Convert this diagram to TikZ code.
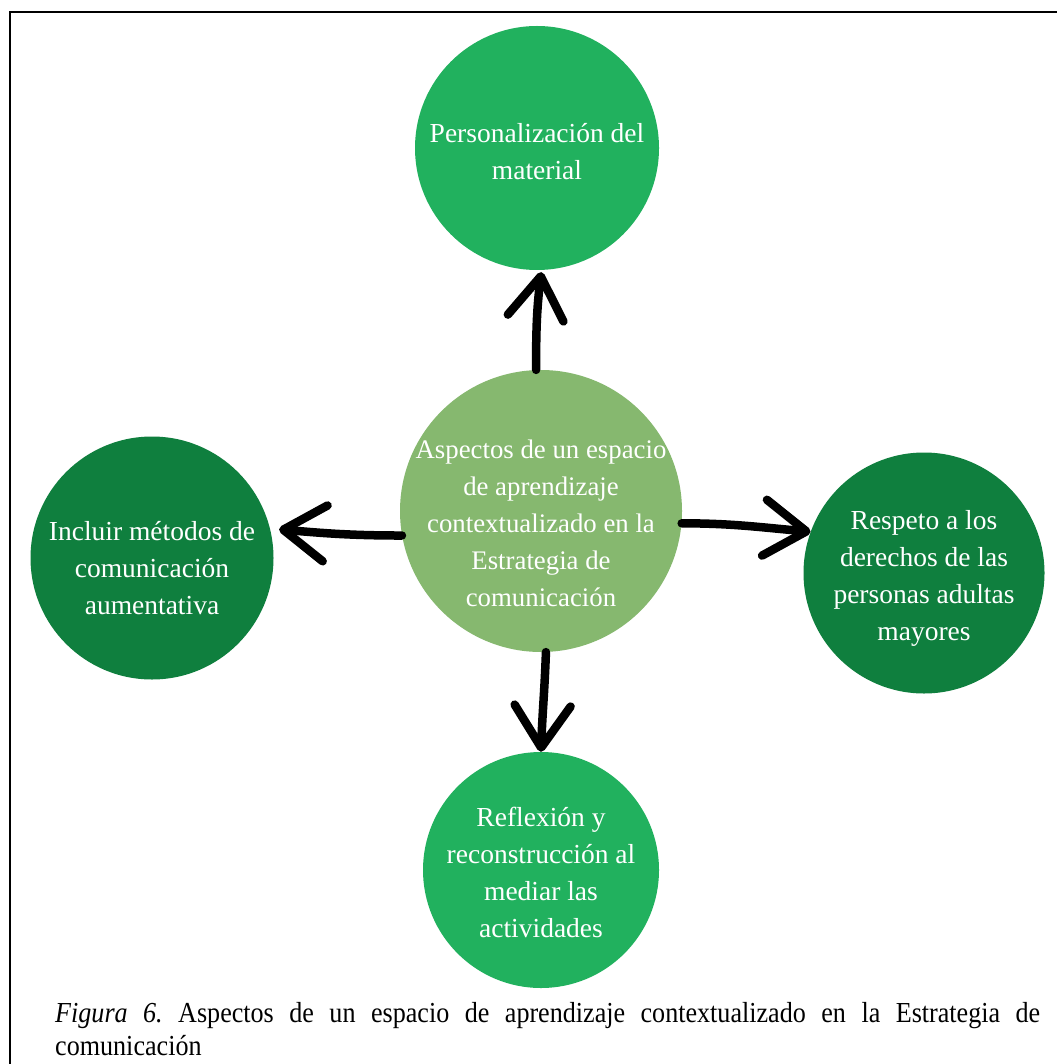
\documentclass[tikz,border=0pt]{standalone}
\usepackage{fontspec}
\setmainfont{Liberation Serif}
\newfontfamily\capfont{Liberation Serif}[FakeStretch=0.9]
\usetikzlibrary{arrows.meta}
\definecolor{brightgreen}{HTML}{21B15E}
\definecolor{darkgreen}{HTML}{0F7F3E}
\definecolor{lightgreen}{HTML}{86B86F}
\begin{document}
\begin{tikzpicture}[x=1pt,y=-1pt,
  circ/.style={circle, inner sep=0pt, draw=none},
  txt/.style={text=white, align=center, inner sep=0pt, font=\fontsize{27.5}{37}\selectfont},
  ctxt/.style={txt, font=\fontsize{26.8}{37}\selectfont},
  arr/.style={line width=8.5pt, line cap=round, black,
    -{Straight Barb[length=42pt,width=56pt,round]}},
  frame/.style={line width=2.6pt, black}]
\useasboundingbox (0,0) rectangle (1056,1064);
\fill[white] (0,0) rectangle (1056,1064);
\draw[frame] (10,1075) -- (10,12) -- (1065,12);

\node[circ, fill=brightgreen, minimum size=244pt,
  label={[txt,yshift=-4pt]center:Personalización del\\material}] (T) at (537,148) {};
\node[circ, fill=lightgreen, minimum size=282pt,
  label={[ctxt,yshift=-12pt]center:Aspectos de un espacio\\de aprendizaje\\contextualizado en la\\Estrategia de\\comunicación}] (C) at (541,511) {};
\node[circ, fill=darkgreen, minimum size=243pt,
  label={[txt,yshift=-10pt]center:Incluir métodos de\\comunicación\\aumentativa}] (L) at (152,558) {};
\node[circ, fill=darkgreen, minimum size=241pt,
  label={[txt,yshift=-5pt]center:Respeto a los\\derechos de las\\personas adultas\\mayores}] (R) at (924,573) {};
\node[circ, fill=brightgreen, minimum size=236pt,
  label={[txt,yshift=-2pt]center:Reflexión y\\reconstrucción al\\mediar las\\actividades}] (B) at (541,870) {};

\draw[arr] (C.92) to[out=90,in=-97] ([yshift=-2pt]T.-88);
\draw[arr] (C.-5) to[out=0,in=175] (R.160);
\draw[arr, shorten >=9pt] (C.190) to[out=180,in=-5] (L.14);
\draw[arr] (C.-88) to[out=-92,in=88] (B.90);

\node[anchor=base west, inner sep=0pt] (cap) at (55,1022)
  {\parbox[t]{985pt}{\capfont\fontsize{29}{33}\selectfont\frenchspacing\hyphenpenalty=10000\tolerance=10000
  \textit{Figura 6.} Aspectos de un espacio de aprendizaje contextualizado en la Estrategia de\linebreak comunicación}};
\end{tikzpicture}
\end{document}
